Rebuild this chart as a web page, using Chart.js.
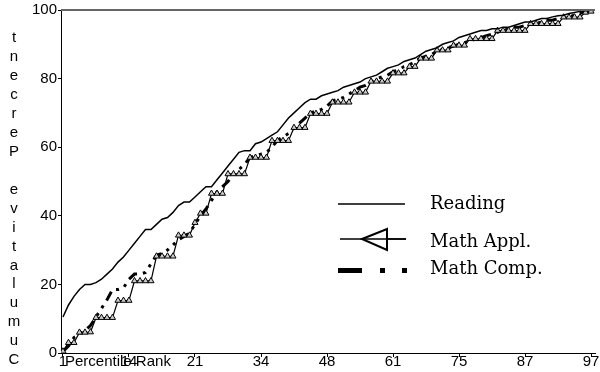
<!DOCTYPE html>
<html lang="en">

<head>
    <meta charset="UTF-8">
    <title>Cumulative Percent by Percentile Rank</title>
    <style>
        body {
            margin: 0;
            padding: 0;
            background-color: #fff;
        }

        .chart-box {
            width: 600px;
            height: 372px;
        }
    </style>
</head>

<body>
    <div class="chart-box">
        <canvas id="rankChart"></canvas>
    </div>

    <script src="https://cdn.jsdelivr.net/npm/chart.js"></script>
    <script>
        // tick labels shown under every 12th point
        const tickLabels = ["1", "14", "21", "34", "48", "61", "75", "87", "97"];
        const tickEvery = 12;

        const seriesNames = ["Reading", "Math Appl.", "Math Comp."];

        // cumulative percent, one value per point (97 points)
        const reading = [
            10.5, 14, 16.5, 18.5, 20, 20, 20.5, 21.5, 23, 24.5,
            26.5, 28, 30, 32, 34, 36, 36, 37.5, 39, 39.5,
            41, 43, 44, 44, 45.5, 47, 48.5, 48.5, 50.5, 52.5,
            54.5, 56.5, 58.5, 59, 59, 61, 61.5, 62.5, 63.5, 64.5,
            66.5, 68.5, 70, 71.5, 73, 74, 74, 75, 75.5, 76,
            76.5, 77.5, 78, 78.5, 79, 80, 80.5, 81, 82, 83,
            83.5, 84, 85, 85.5, 86, 87, 88, 88.5, 89, 90,
            90.5, 91, 92, 92.5, 93, 93.5, 94, 94, 94.5, 94.5,
            95, 95, 95.5, 96, 96.5, 96.5, 97, 97.5, 97.5, 98,
            98.3, 98.5, 99, 99.3, 99.6, 99.8, 100
        ];

        const mathAppl = [
            0.5, 3, 3, 6, 6, 6.1, 10.3, 10.3, 10.3, 10.3,
            15.3, 15.3, 15.3, 21, 21, 21, 21, 28.2, 28.2, 28.2,
            28.2, 34.3, 34.3, 34.3, 38, 40.7, 40.7, 46.5, 46.5, 46.5,
            52.2, 52.2, 52.2, 52.2, 57, 57, 57, 57, 61.9, 61.9,
            61.9, 61.9, 65.7, 65.7, 65.7, 69.8, 69.8, 69.8, 69.8, 73.1,
            73.1, 73.1, 73.1, 76, 76, 76, 79.2, 79.2, 79.2, 79.2,
            81.6, 81.6, 81.6, 83.5, 83.5, 85.9, 85.9, 85.9, 88.3, 88.3,
            88.3, 89.7, 89.7, 89.7, 91.6, 91.6, 91.6, 91.6, 91.6, 94,
            94, 94, 94, 94, 94, 96, 96, 96, 96, 96,
            96, 97.9, 97.9, 97.9, 97.9, 99.3, 99.6
        ];

        const mathComp = [
            0.5, 2, 4.5, 5.5, 6.5, 8, 10.5, 13, 15.5, 18.5,
            18.5, 19, 21.5, 23, 23, 23.5, 26, 28.5, 29, 30,
            31.5, 33, 34, 35, 37.5, 40, 42, 44.5, 47, 48.5,
            50, 52, 53.5, 55, 57, 57.5, 58, 58.5, 60, 62,
            63, 64, 65.5, 67, 68.5, 70, 70.5, 71, 72, 73.5,
            74, 74.5, 75.5, 76.5, 77.5, 78, 79, 80, 80.5, 81,
            82, 82.5, 83.5, 84, 85, 86, 86.5, 87, 88, 88.5,
            89, 89.5, 90, 90.5, 91, 91.5, 92, 92.5, 93, 93.5,
            94, 94.5, 95, 95, 95.5, 96, 96, 96.5, 97, 97,
            97.5, 98, 98, 98.5, 99, 99.5, 100
        ];

        const toPoints = arr => arr.map((v, i) => ({ x: i, y: v }));

        // extra drawing: top rule, stacked y title, overlapping x title, legend box
        const decorations = {
            id: "decorations",
            afterDraw(chart) {
                const ctx = chart.ctx;
                const area = chart.chartArea;
                ctx.save();

                ctx.strokeStyle = "#666";
                ctx.lineWidth = 2;
                ctx.beginPath();
                ctx.moveTo(area.left, area.top);
                ctx.lineTo(area.right, area.top);
                ctx.stroke();

                ctx.fillStyle = "#000";
                ctx.font = "15px 'Liberation Sans', Arial, sans-serif";
                ctx.textAlign = "center";
                ctx.textBaseline = "middle";
                const yTitle = "Cumulative Percent".split("").reverse();
                yTitle.forEach((ch, k) => ctx.fillText(ch, 14, 38 + k * 18.95));

                ctx.textAlign = "left";
                ctx.fillText("Percentile Rank", 65, 362);

                // legend
                ctx.strokeStyle = "#000";
                ctx.lineWidth = 1.5;
                ctx.beginPath();
                ctx.moveTo(338, 204);
                ctx.lineTo(405, 204);
                ctx.moveTo(340, 239);
                ctx.lineTo(406, 239);
                ctx.stroke();

                ctx.lineWidth = 2;
                ctx.fillStyle = "#fff";
                ctx.beginPath();
                ctx.moveTo(362, 239);
                ctx.lineTo(387, 229);
                ctx.lineTo(387, 250);
                ctx.closePath();
                ctx.fill();
                ctx.stroke();
                ctx.beginPath();
                ctx.moveTo(362, 239);
                ctx.lineTo(406, 239);
                ctx.lineWidth = 1.5;
                ctx.stroke();

                ctx.fillStyle = "#000";
                ctx.fillRect(338, 268, 24, 5);
                ctx.fillRect(380, 268, 5, 5);
                ctx.fillRect(402, 268, 5, 5);

                ctx.font = "18px 'DejaVu Serif', serif";
                ctx.textBaseline = "alphabetic";
                ctx.fillText(seriesNames[0], 430, 209);
                ctx.fillText(seriesNames[1], 430, 247);
                ctx.fillText(seriesNames[2], 430, 274);

                ctx.restore();
            }
        };

        const axisFont = { family: "'Liberation Sans', Arial, sans-serif", size: 15 };

        new Chart(document.getElementById("rankChart"), {
            type: "line",
            data: {
                datasets: [{
                    label: seriesNames[0],
                    data: toPoints(reading),
                    borderColor: "#000",
                    borderWidth: 1.5,
                    pointRadius: 0,
                    order: 1
                }, {
                    label: seriesNames[1],
                    data: toPoints(mathAppl),
                    borderColor: "#000",
                    borderWidth: 1.2,
                    pointStyle: "triangle",
                    pointRadius: 3.5,
                    pointBackgroundColor: "#ccc",
                    pointBorderColor: "#000",
                    pointBorderWidth: 1,
                    order: 2
                }, {
                    label: seriesNames[2],
                    data: toPoints(mathComp),
                    borderColor: "#000",
                    borderWidth: 3,
                    borderDash: [10, 6, 3, 6, 3, 6],
                    pointRadius: 0,
                    order: 3
                }]
            },
            options: {
                responsive: true,
                maintainAspectRatio: false,
                animation: false,
                layout: { padding: { top: 6, right: 0, bottom: 0, left: 0 } },
                plugins: {
                    legend: { display: false },
                    tooltip: { enabled: false }
                },
                scales: {
                    x: {
                        type: "linear",
                        min: -0.36,
                        max: 96.72,
                        afterBuildTicks: axis => {
                            axis.ticks = tickLabels.map((_, k) => ({ value: k * tickEvery }));
                        },
                        afterFit: s => { s.height = 19; },
                        ticks: {
                            autoSkip: false,
                            maxRotation: 0,
                            padding: -4,
                            color: "#000",
                            font: axisFont,
                            callback: v => tickLabels[Math.round(v / tickEvery)]
                        },
                        grid: { drawOnChartArea: false, tickLength: 4, color: "#000" },
                        border: { color: "#000" }
                    },
                    y: {
                        min: 0,
                        max: 100,
                        afterFit: s => { s.width = 61; },
                        ticks: {
                            stepSize: 20,
                            padding: 1,
                            color: "#000",
                            font: axisFont
                        },
                        grid: { drawOnChartArea: false, tickLength: 3, color: "#000" },
                        border: { color: "#000" }
                    }
                }
            },
            plugins: [decorations]
        });
    </script>
</body>

</html>
